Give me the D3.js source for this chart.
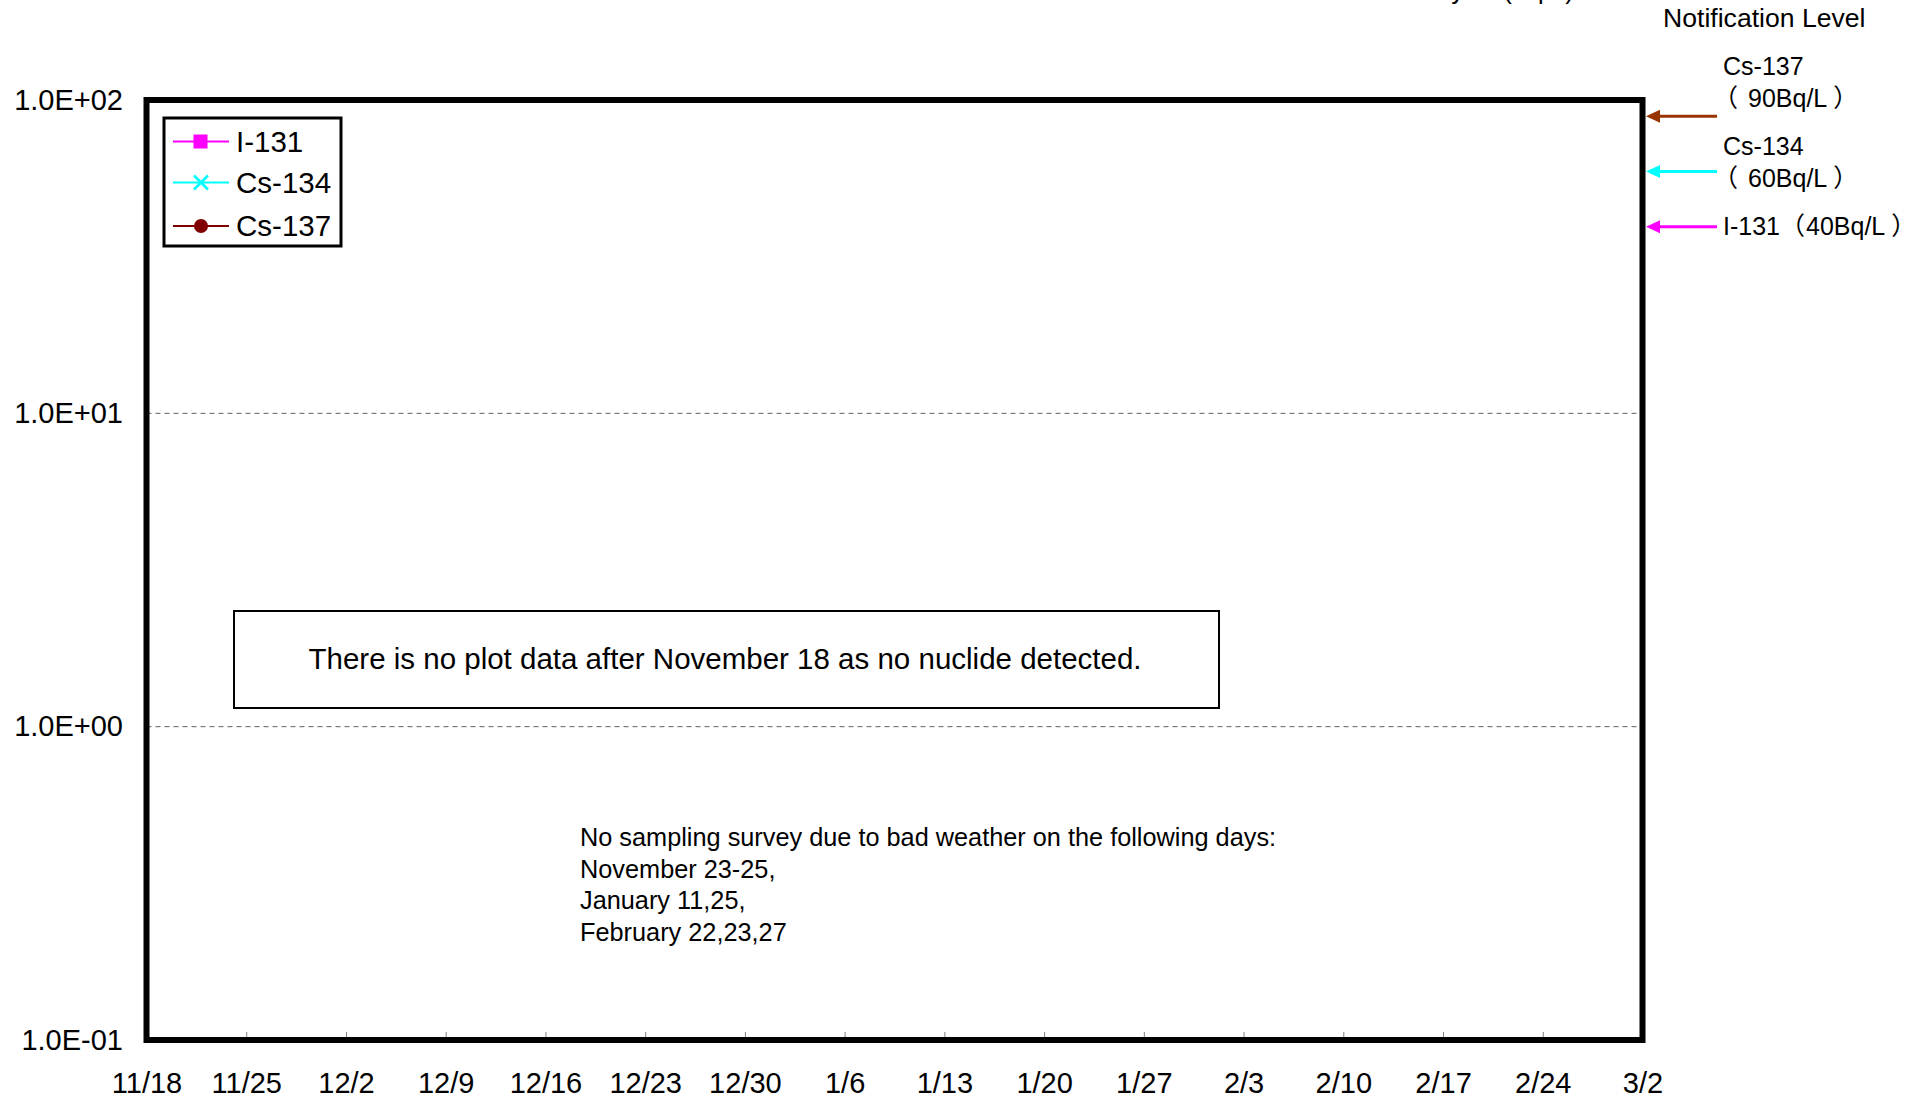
<!DOCTYPE html>
<html>
<head>
<meta charset="utf-8">
<script src="https://cdn.jsdelivr.net/npm/d3@7"></script>
<style>
  html, body { margin: 0; padding: 0; background: #fff; }
  svg { display: block; font-family: "Liberation Sans", Arial, "Noto Sans CJK JP", sans-serif; }
</style>
</head>
<body>
<svg id="chart" width="1930" height="1099"></svg>
<script>
// ---- data ----
const xTickLabels = ["11/18","11/25","12/2","12/9","12/16","12/23","12/30","1/6","1/13","1/20","1/27","2/3","2/10","2/17","2/24","3/2"];
const yTickValues = [0.1, 1, 10, 100];
const yTickLabels = ["1.0E-01","1.0E+00","1.0E+01","1.0E+02"];
const seriesNames = ["I-131","Cs-134","Cs-137"];
// no nuclide detected in the period: series are empty
const i131Values = [];
const cs134Values = [];
const cs137Values = [];
const notifyNames = ["Cs-137","Cs-134","I-131"];
const notifyLevels = [90, 60, 40];
const notifyLabels = ["90Bq/L","60Bq/L","40Bq/L"];
const noteText = "There is no plot data after November 18 as no nuclide detected.";
const weatherNote = ["No sampling survey due to bad weather on the following days:","November 23-25,","January 11,25,","February 22,23,27"];

// ---- layout ----
const svg = d3.select("#chart");
const L = 146.5, R = 1642.5, T = 100, B = 1040;
function toDate(lbl){ const [m,d] = lbl.split("/").map(Number); return new Date(m >= 11 ? 2023 : 2024, m-1, d); }
const tickDates = xTickLabels.map(toDate);
const x = d3.scaleTime().domain([tickDates[0], tickDates[tickDates.length-1]]).range([L, R]);
const y = d3.scaleLog().domain([0.1, 100]).range([B, T]);

const seriesColors = ["#FF00FF","#00FFFF","#800000"];
const arrowColors = {"Cs-137":"#993300","Cs-134":"#00FFFF","I-131":"#FF00FF"};

// title (cut at top of picture)
svg.append("text").attr("x", 1574).attr("y", -1.5).attr("text-anchor","end")
  .attr("font-size", 26).text("Analysis (Bq/L)");

// gridlines
svg.append("g").selectAll("line").data([1, 10]).join("line")
  .attr("x1", L).attr("x2", R).attr("y1", d => y(d)).attr("y2", d => y(d))
  .attr("stroke", "#606060").attr("stroke-width", 1).attr("stroke-dasharray", "5,4");

// x axis
const xAxis = d3.axisBottom(x).tickValues(tickDates)
  .tickFormat((d,i) => xTickLabels[i]).tickSize(-8).tickPadding(32);
const gx = svg.append("g").attr("transform", `translate(0,${B})`).call(xAxis);
gx.select(".domain").remove();
gx.selectAll(".tick line").attr("stroke", "#808080");
gx.selectAll("text").attr("font-size", 29).attr("fill", "#000").attr("font-family", null);

// y axis
const yAxis = d3.axisLeft(y).tickValues(yTickValues)
  .tickFormat((d,i) => yTickLabels[i]).tickSize(0).tickPadding(23.5);
const gy = svg.append("g").attr("transform", `translate(${L},0)`).call(yAxis);
gy.select(".domain").remove();
gy.selectAll("text").attr("font-size", 29).attr("fill", "#000").attr("font-family", null);

// series (empty)
const seriesData = [i131Values, cs134Values, cs137Values];
const line = d3.line().x(d => x(toDate(d.date))).y(d => y(d.value));
svg.append("g").selectAll("path").data(seriesData).join("path")
  .attr("d", d => d.length ? line(d) : null).attr("fill","none")
  .attr("stroke", (d,i) => seriesColors[i]).attr("stroke-width", 2);

// frame
svg.append("rect").attr("x", L).attr("y", T).attr("width", R - L).attr("height", B - T)
  .attr("fill", "none").attr("stroke", "#000").attr("stroke-width", 6);

// legend
const lg = svg.append("g");
lg.append("rect").attr("x", 164).attr("y", 118).attr("width", 177).attr("height", 128)
  .attr("fill", "#fff").attr("stroke", "#000").attr("stroke-width", 3);
const rowY = [141.5, 182.5, 226];
seriesNames.forEach((name, i) => {
  const ry = rowY[i], c = seriesColors[i];
  lg.append("line").attr("x1", 173).attr("x2", 229).attr("y1", ry).attr("y2", ry)
    .attr("stroke", c).attr("stroke-width", 2);
  if (i === 0) {
    lg.append("rect").attr("x", 193.5).attr("y", ry - 7).attr("width", 14).attr("height", 14).attr("fill", c);
  } else if (i === 1) {
    lg.append("path").attr("d", `M${194},${ry-7}L${208},${ry+7}M${208},${ry-7}L${194},${ry+7}`)
      .attr("stroke", c).attr("stroke-width", 2.5);
  } else {
    lg.append("circle").attr("cx", 201).attr("cy", ry).attr("r", 7).attr("fill", c);
  }
  lg.append("text").attr("x", 236).attr("y", ry + 10).attr("font-size", 29.5).text(name);
});

// note box
svg.append("rect").attr("x", 234).attr("y", 611).attr("width", 985).attr("height", 97)
  .attr("fill", "#fff").attr("stroke", "#000").attr("stroke-width", 2);
svg.append("text").attr("x", 725).attr("y", 669).attr("text-anchor", "middle")
  .attr("font-size", 29.5).text(noteText);

// weather note
svg.append("text").attr("font-size", 25.3).selectAll("tspan").data(weatherNote).join("tspan")
  .attr("x", 580).attr("y", (d,i) => 846 + i * 31.5).text(d => d);

// notification level annotations
svg.append("text").attr("x", 1663).attr("y", 27).attr("font-size", 26.6).text("Notification Level");
const ann = svg.append("g");
notifyNames.forEach((name, i) => {
  const c = arrowColors[name];
  const ay = y(notifyLevels[i]) + 2;
  ann.append("line").attr("x1", 1717).attr("x2", 1656).attr("y1", ay).attr("y2", ay)
    .attr("stroke", c).attr("stroke-width", 3);
  ann.append("path").attr("d", `M1646,${ay}L1660,${ay-6.5}L1660,${ay+6.5}Z`).attr("fill", c);
});
function levelLabel(baseY, prefix, parenX, numX, value) {
  const t = ann.append("text").attr("y", baseY).attr("font-size", 25);
  if (prefix) t.append("tspan").attr("x", 1723).text(prefix);
  t.append("tspan").attr("x", parenX).text("（");
  t.append("tspan").attr("x", numX).text(value);
  t.append("tspan").attr("dx", 6).text("）");
}
ann.append("text").attr("x", 1723).attr("y", 75).attr("font-size", 25).text(notifyNames[0]);
levelLabel(107, null, 1713, 1748, notifyLabels[0]);
ann.append("text").attr("x", 1723).attr("y", 155).attr("font-size", 25).text(notifyNames[1]);
levelLabel(187, null, 1713, 1748, notifyLabels[1]);
levelLabel(235, notifyNames[2], 1780, 1806, notifyLabels[2]);
</script>
</body>
</html>
